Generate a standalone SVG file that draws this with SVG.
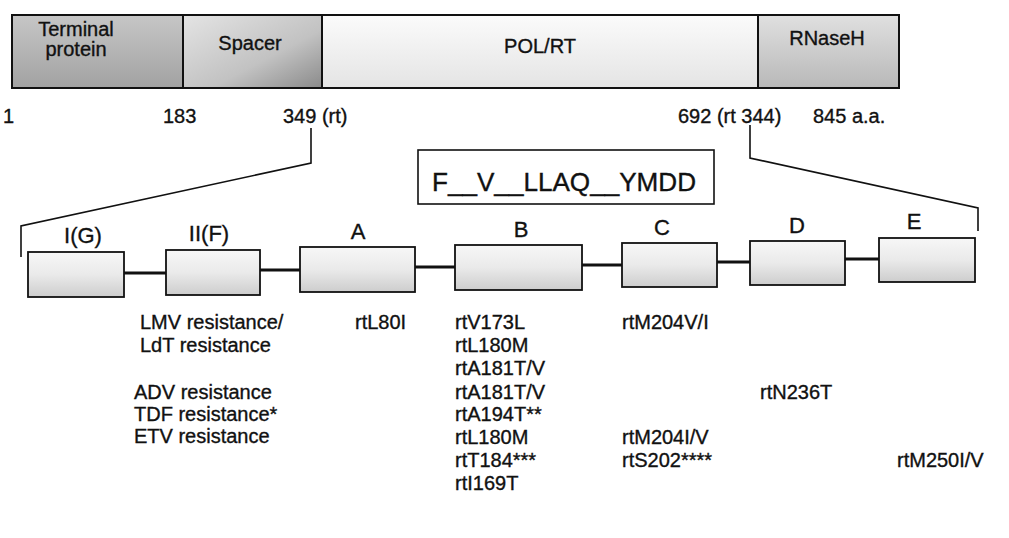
<svg xmlns="http://www.w3.org/2000/svg" width="1009" height="538" viewBox="0 0 1009 538">
  <defs>
    <linearGradient id="gTerm" x1="0" y1="0" x2="0" y2="1">
      <stop offset="0" stop-color="#c6c6c6"/>
      <stop offset="1" stop-color="#a2a2a2"/>
    </linearGradient>
    <linearGradient id="gSpacer" x1="0" y1="0" x2="1" y2="1">
      <stop offset="0" stop-color="#e4e4e4"/>
      <stop offset="0.6" stop-color="#c2c2c2"/>
      <stop offset="1" stop-color="#8a8a8a"/>
    </linearGradient>
    <linearGradient id="gPol" x1="0" y1="0" x2="0" y2="1">
      <stop offset="0" stop-color="#fbfbfb"/>
      <stop offset="1" stop-color="#e4e4e4"/>
    </linearGradient>
    <linearGradient id="gRnase" x1="0" y1="0" x2="0" y2="1">
      <stop offset="0" stop-color="#e0e0e0"/>
      <stop offset="1" stop-color="#b8b8b8"/>
    </linearGradient>
    <linearGradient id="gDom" x1="0" y1="0" x2="0" y2="1">
      <stop offset="0" stop-color="#f7f7f7"/>
      <stop offset="0.5" stop-color="#eaeaea"/>
      <stop offset="1" stop-color="#cdcdcd"/>
    </linearGradient>
  </defs>
  <style>
    text { font-family: "Liberation Sans", Arial, sans-serif; fill: #111; stroke: #111; stroke-width: 0.35; }
    .bar { stroke: #111; stroke-width: 2; }
    .dom { fill: url(#gDom); stroke: #111; stroke-width: 1.8; }
    .lab { font-size: 20px; text-anchor: middle; }
    .num { font-size: 20px; }
    .dl { font-size: 22px; text-anchor: middle; }
    .mut { font-size: 20px; }
    .thin { fill: none; stroke: #111; stroke-width: 1.6; }
    .link { fill: none; stroke: #111; stroke-width: 3.2; }
  </style>
  <rect width="1009" height="538" fill="#ffffff"/>

  <g id="protein-bar">
    <g id="terminal-protein">
      <rect class="bar" x="12" y="15" width="171" height="73" fill="url(#gTerm)"/>
      <text class="lab" x="76" y="36">Terminal</text>
      <text class="lab" x="76" y="56">protein</text>
    </g>
    <g id="spacer">
      <rect class="bar" x="183" y="15" width="139" height="73" fill="url(#gSpacer)"/>
      <text class="lab" x="250" y="50">Spacer</text>
    </g>
    <g id="pol-rt">
      <rect class="bar" x="322" y="15" width="436" height="73" fill="url(#gPol)"/>
      <text class="lab" x="540" y="53">POL/RT</text>
    </g>
    <g id="rnaseh">
      <rect class="bar" x="758" y="15" width="141" height="73" fill="url(#gRnase)"/>
      <text class="lab" x="827" y="45">RNaseH</text>
    </g>
  </g>

  <g id="positions">
    <text class="num" x="3" y="123">1</text>
    <text class="num" x="163" y="123">183</text>
    <text class="num" x="283" y="123">349 (rt)</text>
    <text class="num" x="678" y="123">692 (rt 344)</text>
    <text class="num" x="813" y="123">845 a.a.</text>
  </g>

  <g id="motif">
    <rect x="418" y="150" width="296" height="54" fill="#ffffff" stroke="#111" stroke-width="1.6"/>
    <text x="432" y="191" font-size="25" textLength="264" lengthAdjust="spacingAndGlyphs">F__V__LLAQ__YMDD</text>
  </g>

  <g id="connectors">
    <path class="thin" d="M311,128 V163 L21,226 V257"/>
    <path class="thin" d="M750,125 V158 L978,208 V231"/>
    <line class="link" x1="124" y1="273" x2="166" y2="273"/>
    <line class="link" x1="260" y1="270" x2="300" y2="270"/>
    <line class="link" x1="415" y1="267" x2="455" y2="267"/>
    <line class="link" x1="582" y1="265" x2="622" y2="265"/>
    <line class="link" x1="717" y1="262" x2="750" y2="262"/>
    <line class="link" x1="845" y1="259" x2="879" y2="259"/>
  </g>

  <g id="domain-IG">
    <rect class="dom" x="28" y="252" width="96" height="45"/>
    <text class="dl" x="83" y="243">I(G)</text>
  </g>
  <g id="domain-IIF">
    <rect class="dom" x="166" y="250" width="94" height="45"/>
    <text class="dl" x="209" y="241">II(F)</text>
  </g>
  <g id="domain-A">
    <rect class="dom" x="300" y="247" width="115" height="45"/>
    <text class="dl" x="358" y="239">A</text>
  </g>
  <g id="domain-B">
    <rect class="dom" x="455" y="245" width="127" height="45"/>
    <text class="dl" x="521" y="237">B</text>
  </g>
  <g id="domain-C">
    <rect class="dom" x="622" y="243" width="95" height="44"/>
    <text class="dl" x="662" y="235">C</text>
  </g>
  <g id="domain-D">
    <rect class="dom" x="750" y="241" width="95" height="44"/>
    <text class="dl" x="797" y="233">D</text>
  </g>
  <g id="domain-E">
    <rect class="dom" x="879" y="238" width="96" height="44"/>
    <text class="dl" x="914" y="229">E</text>
  </g>

  <g id="resistance-labels">
    <text class="mut" x="140" y="329">LMV resistance/</text>
    <text class="mut" x="140" y="352">LdT resistance</text>
    <text class="mut" x="134" y="399">ADV resistance</text>
    <text class="mut" x="134" y="421">TDF resistance*</text>
    <text class="mut" x="134" y="443">ETV resistance</text>
  </g>

  <g id="mutations">
    <text class="mut" x="355" y="329">rtL80I</text>
    <text class="mut" x="455" y="329">rtV173L</text>
    <text class="mut" x="455" y="352">rtL180M</text>
    <text class="mut" x="455" y="375">rtA181T/V</text>
    <text class="mut" x="455" y="399">rtA181T/V</text>
    <text class="mut" x="455" y="421">rtA194T**</text>
    <text class="mut" x="455" y="444">rtL180M</text>
    <text class="mut" x="455" y="467">rtT184***</text>
    <text class="mut" x="455" y="490">rtI169T</text>
    <text class="mut" x="622" y="329">rtM204V/I</text>
    <text class="mut" x="622" y="444">rtM204I/V</text>
    <text class="mut" x="622" y="467">rtS202****</text>
    <text class="mut" x="760" y="399">rtN236T</text>
    <text class="mut" x="897" y="467">rtM250I/V</text>
  </g>
</svg>
